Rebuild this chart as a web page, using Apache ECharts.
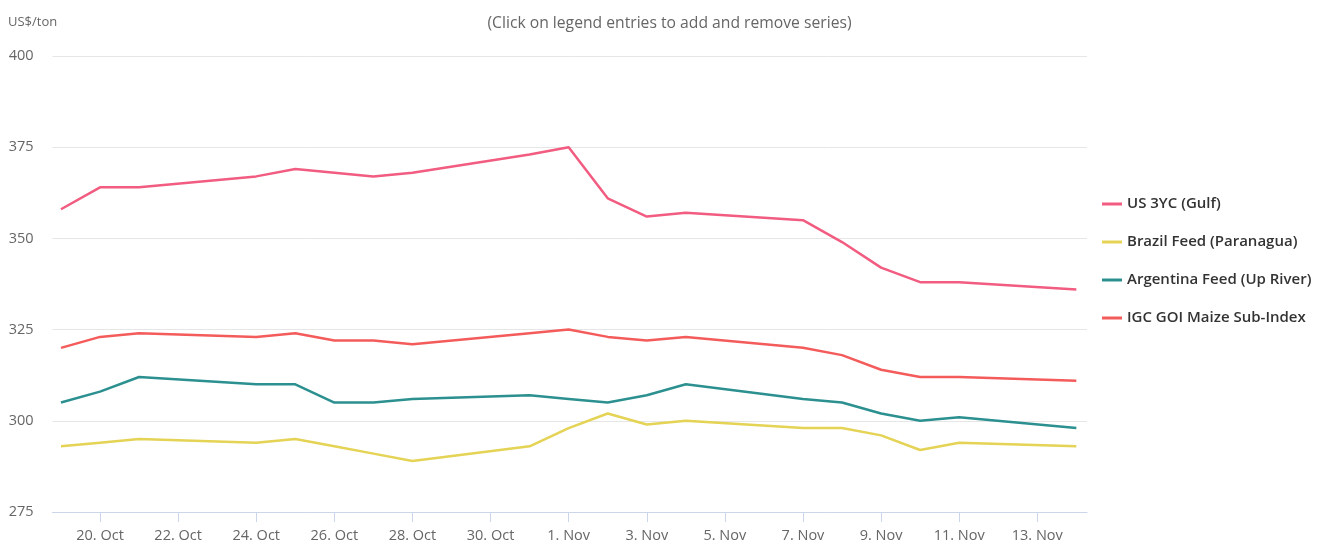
<!DOCTYPE html>
<html>
<head>
<meta charset="utf-8">
<title>Maize export prices</title>
<script src="https://cdn.jsdelivr.net/npm/echarts@6/dist/echarts.min.js"></script>
<style>
  html, body { margin: 0; padding: 0; background: #fff; }
  #chart { width: 1339px; height: 545px; }
</style>
</head>
<body>
<div id="chart"></div>
<script>
// trading days, Oct-Nov 2022 (month index, day)
const dates = [
    [9, 19], [9, 20], [9, 21], [9, 24], [9, 25], [9, 26], [9, 27], [9, 28], [9, 31],
    [10, 1], [10, 2], [10, 3], [10, 4], [10, 7], [10, 8], [10, 9], [10, 10], [10, 11], [10, 14]
];
const us3yc     = [358, 364, 364, 367, 369, 368, 367, 368, 373, 375, 361, 356, 357, 355, 349, 342, 338, 338, 336];
const brazil    = [293, 294, 295, 294, 295, 293, 291, 289, 293, 298, 302, 299, 300, 298, 298, 296, 292, 294, 293];
const argentina = [305, 308, 312, 310, 310, 305, 305, 306, 307, 306, 305, 307, 310, 306, 305, 302, 300, 301, 298];
const igcMaize  = [320, 323, 324, 323, 324, 322, 322, 321, 324, 325, 323, 322, 323, 320, 318, 314, 312, 312, 311];

// x-axis tick labels (every second day)
const tickDays = [
    [9, 20], [9, 22], [9, 24], [9, 26], [9, 28], [9, 30],
    [10, 1], [10, 3], [10, 5], [10, 7], [10, 9], [10, 11], [10, 13]
];
const monthNames = ['Jan', 'Feb', 'Mar', 'Apr', 'May', 'Jun', 'Jul', 'Aug', 'Sep', 'Oct', 'Nov', 'Dec'];

const DAY = 24 * 3600 * 1000;
const toTime = d => new Date(2022, d[0], d[1]).getTime();
const times = dates.map(toTime);
const ticks = tickDays.map(toTime);

const pair = vals => times.map((t, i) => [t, vals[i]]);

const chart = echarts.init(document.getElementById('chart'));

const lineSeries = (name, vals, color) => ({
    name: name,
    type: 'line',
    data: pair(vals),
    symbol: 'none',
    lineStyle: { color: color, width: 2.5 },
    itemStyle: { color: color },
    emphasis: { disabled: true }
});

chart.setOption({
    animation: false,
    textStyle: { fontFamily: 'Open Sans' },
    title: [
        {
            text: '(Click on legend entries to add and remove series)',
            left: 'center',
            top: 11,
            textStyle: { fontSize: 15.7, fontWeight: 'normal', color: '#666666' }
        },
        {
            text: 'US$/ton',
            left: 3,
            top: 11,
            textStyle: { fontSize: 13, fontWeight: 'normal', color: '#666666' }
        }
    ],
    legend: {
        orient: 'vertical',
        left: 1097,
        top: 190,
        icon: 'rect',
        itemWidth: 20,
        itemHeight: 3,
        itemGap: 20,
        textStyle: { fontSize: 15, color: '#333333', fontWeight: 600, lineHeight: 18 }
    },
    grid: { left: 52.5, right: 252, top: 56, bottom: 33 },
    xAxis: {
        type: 'value',
        min: times[0] - 0.217 * DAY,
        max: times[times.length - 1] + 0.273 * DAY,
        axisLine: { show: true, lineStyle: { color: '#ccd6eb' } },
        axisTick: { show: true, length: 10, customValues: ticks, lineStyle: { color: '#ccd6eb' } },
        axisLabel: {
            customValues: ticks,
            color: '#666666',
            fontSize: 14.5,
            margin: 16,
            formatter: v => {
                const d = new Date(v);
                return d.getDate() + '. ' + monthNames[d.getMonth()];
            }
        },
        splitLine: { show: false }
    },
    yAxis: {
        type: 'value',
        min: 275,
        max: 400,
        interval: 25,
        axisLine: { show: false },
        axisTick: { show: false },
        axisLabel: { color: '#666666', fontSize: 14.5, margin: 19 },
        splitLine: { lineStyle: { color: '#e6e6e6' } }
    },
    series: [
        lineSeries('US 3YC (Gulf)', us3yc, '#f15c80'),
        lineSeries('Brazil Feed (Paranagua)', brazil, '#e4d354'),
        lineSeries('Argentina Feed (Up River)', argentina, '#2b908f'),
        lineSeries('IGC GOI Maize Sub-Index', igcMaize, '#f45b5b')
    ]
});

window.addEventListener('resize', () => chart.resize());
</script>
</body>
</html>
